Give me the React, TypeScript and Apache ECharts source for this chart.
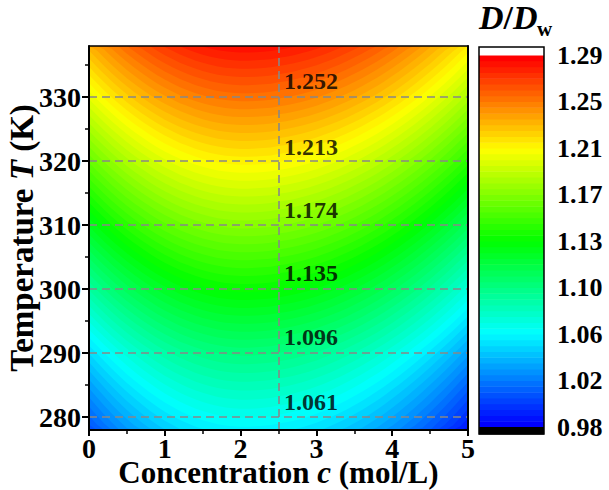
import React, { useEffect, useRef } from 'react';
import * as echarts from 'echarts';

// ---------------- data ----------------
// concentration grid (mol/L)
const concGrid = [
  0, 0.1, 0.2, 0.3, 0.4, 0.5, 0.6, 0.7, 0.8, 0.9,
  1.0, 1.1, 1.2, 1.3, 1.4, 1.5, 1.6, 1.7, 1.8, 1.9,
  2.0, 2.1, 2.2, 2.3, 2.4, 2.5, 2.6, 2.7, 2.8, 2.9,
  3.0, 3.1, 3.2, 3.3, 3.4, 3.5, 3.6, 3.7, 3.8, 3.9,
  4.0, 4.1, 4.2, 4.3, 4.4, 4.5, 4.6, 4.7, 4.8, 4.9, 5.0,
];
// change of D/Dw relative to the c = 2.5 column
const concOffset = [
  -0.0480, -0.0433, -0.0388, -0.0345, -0.0305, -0.0267, -0.0232, -0.0199, -0.0168, -0.0139,
  -0.0113, -0.0090, -0.0068, -0.0050, -0.0033, -0.0019, -0.0007, 0.0003, 0.0010, 0.0014,
  0.0017, 0.0017, 0.0015, 0.0012, 0.0008, 0.0000, -0.0007, -0.0016, -0.0027, -0.0039,
  -0.0053, -0.0069, -0.0086, -0.0105, -0.0125, -0.0147, -0.0170, -0.0195, -0.0221, -0.0249,
  -0.0279, -0.0310, -0.0343, -0.0377, -0.0413, -0.0450, -0.0489, -0.0529, -0.0571, -0.0615, -0.0660,
];
// temperature grid (K)
const tempGrid = [
  278, 279, 280, 281, 282, 283, 284, 285, 286, 287, 288, 289,
  290, 291, 292, 293, 294, 295, 296, 297, 298, 299,
  300, 301, 302, 303, 304, 305, 306, 307, 308, 309,
  310, 311, 312, 313, 314, 315, 316, 317, 318, 319,
  320, 321, 322, 323, 324, 325, 326, 327, 328, 329,
  330, 331, 332, 333, 334, 335, 336, 337, 338,
];
// D/Dw along the c = 2.5 mol/L line
const tempProfile = [
  1.0540, 1.0575, 1.0610, 1.0644, 1.0678, 1.0712, 1.0746, 1.0781, 1.0816, 1.0852, 1.0887, 1.0923,
  1.0960, 1.0999, 1.1038, 1.1077, 1.1116, 1.1155, 1.1194, 1.1233, 1.1272, 1.1311,
  1.1350, 1.1389, 1.1428, 1.1467, 1.1506, 1.1545, 1.1584, 1.1623, 1.1662, 1.1701,
  1.1740, 1.1779, 1.1818, 1.1857, 1.1896, 1.1935, 1.1974, 1.2013, 1.2052, 1.2091,
  1.2130, 1.2169, 1.2208, 1.2247, 1.2286, 1.2325, 1.2364, 1.2403, 1.2442, 1.2481,
  1.2520, 1.2559, 1.2597, 1.2635, 1.2673, 1.2711, 1.2749, 1.2787, 1.2825,
];

// contour annotations
const contourLabelText = ['1.061', '1.096', '1.135', '1.174', '1.213', '1.252'];
const contourLabelT = [282.4, 292.5, 302.5, 312.4, 322.2, 332.6];
const contourLabelC = 2.93;

// dashed reference lines
const gridLineT = [280, 290, 300, 310, 320, 330];
const refLineC = 2.5;

// axis ticks
const yTickValues = [280, 290, 300, 310, 320, 330];
const colorbarLabels = ['0.98', '1.02', '1.06', '1.10', '1.13', '1.17', '1.21', '1.25', '1.29'];

// colour scale (filled-contour levels)
const LEVEL_MIN = 0.98;
const LEVEL_MAX = 1.29;
const N_LEVELS = 64;
const colorStops = [
  [0, 0, 255],
  [0, 255, 255],
  [0, 255, 0],
  [255, 255, 0],
  [255, 0, 0],
];

const FONT = '"Liberation Serif", "Times New Roman", Times, serif';

function cmap(f: number): string {
  const ff = Math.max(0, Math.min(1, f));
  const s = ff * (colorStops.length - 1);
  const i = Math.min(colorStops.length - 2, Math.floor(s));
  const t = s - i;
  const a = colorStops[i];
  const b = colorStops[i + 1];
  const r = Math.round(a[0] + (b[0] - a[0]) * t);
  const g = Math.round(a[1] + (b[1] - a[1]) * t);
  const bl = Math.round(a[2] + (b[2] - a[2]) * t);
  return `rgb(${r},${g},${bl})`;
}

function bandColor(k: number): string {
  return cmap(k / (N_LEVELS - 1));
}

// temperature at which column j reaches a given level (contour tracing on the grid)
function contourT(level: number, j: number): number {
  const target = level - concOffset[j];
  const n = tempProfile.length;
  if (target <= tempProfile[0]) return tempGrid[0];
  if (target >= tempProfile[n - 1]) return tempGrid[n - 1];
  for (let i = 0; i < n - 1; i++) {
    if (target <= tempProfile[i + 1]) {
      const f = (target - tempProfile[i]) / (tempProfile[i + 1] - tempProfile[i]);
      return tempGrid[i] + f * (tempGrid[i + 1] - tempGrid[i]);
    }
  }
  return tempGrid[n - 1];
}

export default function App() {
  const ref = useRef<HTMLDivElement>(null);

  useEffect(() => {
    if (!ref.current) return;
    const chart = echarts.init(ref.current, null, { renderer: 'svg' });

    const cMin = concGrid[0];
    const cMax = concGrid[concGrid.length - 1];
    const tMin = tempGrid[0];
    const tMax = tempGrid[tempGrid.length - 1];
    const levelStep = (LEVEL_MAX - LEVEL_MIN) / N_LEVELS;

    const bandData: number[][] = [];
    for (let k = 0; k < N_LEVELS; k++) bandData.push([cMin, tMin, k]);

    const barData: number[][] = [];
    for (let k = 0; k < N_LEVELS; k++) barData.push([0, k]);
    barData.push([0, -1]);
    barData.push([0, N_LEVELS]);
    const nLab = colorbarLabels.length - 1;

    const tickFont = { fontFamily: FONT, fontWeight: 'bold' as const, fontSize: 28, color: '#000' };

    const option: any = {
      animation: false,
      backgroundColor: '#fff',
      grid: [
        { left: 89, right: 141, top: 46, bottom: 60, containLabel: false, outerBoundsMode: 'none' },
        { left: 479, right: 65, top: 55, bottom: 63, containLabel: false, outerBoundsMode: 'none' },
      ],
      xAxis: [
        {
          type: 'value', gridIndex: 0, min: 0, max: 5, interval: 1, position: 'bottom', z: 10,
          axisLine: { show: true, onZero: false, lineStyle: { color: '#000', width: 2 } },
          axisTick: { show: true, inside: false, length: 6, lineStyle: { color: '#000', width: 2 } },
          minorTick: { show: true, splitNumber: 2, length: 4, lineStyle: { color: '#000', width: 1.5 } },
          splitLine: { show: false },
          axisLabel: { ...tickFont, margin: 8, lineHeight: 20 },
          name: '{n|Concentration }{i|c}{n| (mol/L)}',
          nameLocation: 'middle', nameGap: 29, nameMoveOverlap: false,
          nameTextStyle: {
            lineHeight: 26,
            rich: {
              n: { fontFamily: FONT, fontWeight: 'bold', fontSize: 31, lineHeight: 26, color: '#000' },
              i: { fontFamily: FONT, fontWeight: 'bold', fontStyle: 'italic', fontSize: 31, lineHeight: 26, color: '#000' },
            },
          },
        },
        {
          type: 'value', gridIndex: 0, min: 0, max: 5, position: 'top', z: 10,
          axisLine: { show: true, onZero: false, lineStyle: { color: '#000', width: 1.5 } },
          axisTick: { show: false }, axisLabel: { show: false }, splitLine: { show: false },
        },
        { type: 'value', gridIndex: 1, min: 0, max: 1, show: false },
      ],
      yAxis: [
        {
          type: 'value', gridIndex: 0, min: 278, max: 338, splitNumber: 6, position: 'left', z: 10,
          axisLine: { show: true, onZero: false, lineStyle: { color: '#000', width: 2 } },
          axisTick: { show: true, inside: false, length: 7, customValues: yTickValues, lineStyle: { color: '#000', width: 2 } },
          minorTick: { show: true, splitNumber: 2, length: 4, lineStyle: { color: '#000', width: 1.5 } },
          splitLine: { show: false },
          axisLabel: { ...tickFont, margin: 8, lineHeight: 22, customValues: yTickValues },
          name: '{n|Temperature }{i|T}{n| (K)}',
          nameLocation: 'middle', nameGap: 53, nameMoveOverlap: false,
          nameTextStyle: {
            lineHeight: 28,
            rich: {
              n: { fontFamily: FONT, fontWeight: 'bold', fontSize: 33, lineHeight: 28, color: '#000' },
              i: { fontFamily: FONT, fontWeight: 'bold', fontStyle: 'italic', fontSize: 33, lineHeight: 28, color: '#000' },
            },
          },
        },
        {
          type: 'value', gridIndex: 0, min: 278, max: 338, position: 'right', z: 10,
          axisLine: { show: true, onZero: false, lineStyle: { color: '#000', width: 2 } },
          axisTick: { show: false }, axisLabel: { show: false }, splitLine: { show: false },
        },
        {
          type: 'value', gridIndex: 1, min: 0, max: nLab, interval: 1, position: 'right',
          axisLine: { show: false },
          axisTick: { show: true, inside: false, length: 7, lineStyle: { color: '#000', width: 2 } },
          splitLine: { show: false },
          axisLabel: {
            ...tickFont, fontSize: 26, margin: 13,
            formatter: (v: number) => colorbarLabels[Math.round(v)] ?? '',
          },
        },
      ],
      series: [
        {
          // filled contour bands, each drawn from its lower contour up to the top edge
          type: 'custom',
          xAxisIndex: 0, yAxisIndex: 0,
          silent: true,
          clip: true,
          data: bandData,
          encode: { x: 0, y: 1 },
          renderItem: (params: any, api: any) => {
            const k = api.value(2);
            const level = LEVEL_MIN + k * levelStep;
            const pts: number[][] = [];
            for (let j = 0; j < concGrid.length; j++) {
              const t = k === 0 ? tMin : contourT(level, j);
              pts.push(api.coord([concGrid[j], t]));
            }
            pts.push(api.coord([cMax, tMax]));
            pts.push(api.coord([cMin, tMax]));
            return {
              type: 'polygon',
              shape: { points: pts },
              style: { fill: bandColor(k), stroke: null },
            };
          },
        },
        {
          type: 'scatter',
          xAxisIndex: 0, yAxisIndex: 0,
          z: 5,
          silent: true,
          symbolSize: 0,
          data: contourLabelT.map((t) => [contourLabelC, t]),
          label: {
            show: true, position: 'inside',
            fontFamily: FONT, fontWeight: 'bold', fontSize: 24, color: '#000',
            formatter: (p: any) => contourLabelText[p.dataIndex],
          },
          markLine: {
            silent: true,
            symbol: ['none', 'none'],
            label: { show: false },
            lineStyle: { color: '#888', type: [8, 5], width: 1.6 },
            data: [...gridLineT.map((t) => ({ yAxis: t })), { xAxis: refLineC }],
          },
        },
        {
          type: 'custom',
          xAxisIndex: 2, yAxisIndex: 2,
          silent: true,
          clip: false,
          data: barData,
          encode: { x: 0, y: 1 },
          renderItem: (params: any, api: any) => {
            const k = api.value(1);
            const unit = nLab / N_LEVELS;
            let y0: number, y1: number, fill: string;
            if (k < 0) {
              y0 = -0.15; y1 = 0; fill = '#000';
            } else if (k >= N_LEVELS) {
              y0 = nLab; y1 = nLab + 0.175; fill = '#fff';
            } else {
              y0 = k * unit; y1 = (k + 1) * unit; fill = bandColor(k);
            }
            const p0 = api.coord([0, y1]);
            const p1 = api.coord([1, y0]);
            return {
              type: 'rect',
              shape: { x: p0[0], y: p0[1], width: p1[0] - p0[0], height: p1[1] - p0[1] + 0.5 },
              style: { fill, stroke: null },
            };
          },
        },
      ],
      graphic: [
        {
          type: 'rect', z: 100, silent: true,
          shape: { x: 479, y: 47, width: 65, height: 387 },
          style: { fill: 'none', stroke: '#000', lineWidth: 1.5 },
        },
        {
          type: 'text', z: 100, silent: true, x: 479, y: 0,
          style: {
            text: '{i|D}{n|/}{i|D}',
            rich: {
              i: { fontFamily: FONT, fontWeight: 'bold', fontStyle: 'italic', fontSize: 34, fill: '#000' },
              n: { fontFamily: FONT, fontWeight: 'bold', fontSize: 34, fill: '#000' },
            },
          },
        },
        {
          type: 'text', z: 100, silent: true, x: 537, y: 18,
          style: { text: 'w', fontFamily: FONT, fontWeight: 'bold', fontSize: 21, fill: '#000' },
        },
      ],
    };

    chart.setOption(option);
    return () => chart.dispose();
  }, []);

  return <div ref={ref} style={{ position: 'absolute', left: 0, top: 0, width: 609, height: 490 }} />;
}
